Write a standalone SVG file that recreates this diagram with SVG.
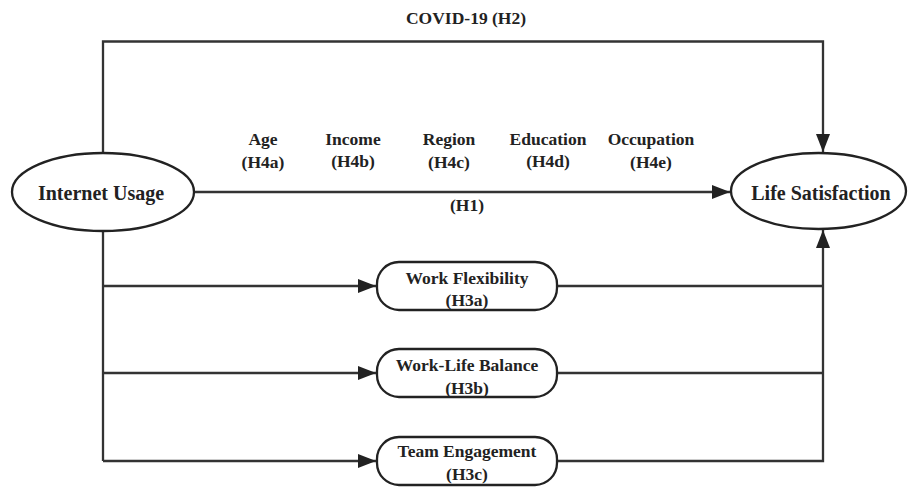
<svg xmlns="http://www.w3.org/2000/svg" width="909" height="487" viewBox="0 0 909 487" font-family="'Liberation Serif', 'Times New Roman', serif">
<defs>
<style>
text{font-weight:bold;fill:#222;text-anchor:middle}
.big{font-size:20px}
.mid{font-size:17.5px}
.node{fill:#fff;stroke:#222;stroke-width:2.3}
.ln{fill:none;stroke:#333;stroke-width:2.3}
</style>
<marker id="ahb" markerWidth="18" markerHeight="14" refX="18" refY="7" orient="auto" markerUnits="userSpaceOnUse" viewBox="0 0 18 14">
<path d="M0,0 L18,7 L0,14 Z" fill="#222"/>
</marker>
</defs>
<g id="connectors">
<path class="ln" d="M103,153 V41.5 H823 V152" marker-end="url(#ahb)"/>
<path class="ln" d="M194,192 H730" marker-end="url(#ahb)"/>
<path class="ln" d="M103,231 V461"/>
<path class="ln" d="M103,286 H376" marker-end="url(#ahb)"/>
<path class="ln" d="M103,373 H376" marker-end="url(#ahb)"/>
<path class="ln" d="M103,461 H376" marker-end="url(#ahb)"/>
<path class="ln" d="M557,286 H823"/>
<path class="ln" d="M557,373 H823"/>
<path class="ln" d="M557,461 H823 V230" marker-end="url(#ahb)"/>
</g>
<g id="labels">
<text class="mid" x="466" y="23.5">COVID-19 (H2)</text>
<text class="mid" x="263" y="145">Age</text>
<text class="mid" x="263" y="168">(H4a)</text>
<text class="mid" x="353" y="145">Income</text>
<text class="mid" x="353" y="167">(H4b)</text>
<text class="mid" x="449" y="145">Region</text>
<text class="mid" x="449" y="168">(H4c)</text>
<text class="mid" x="548" y="145">Education</text>
<text class="mid" x="548" y="167">(H4d)</text>
<text class="mid" x="651" y="145">Occupation</text>
<text class="mid" x="651" y="168">(H4e)</text>
<text class="mid" x="467" y="211">(H1)</text>
</g>
<g id="internet-usage">
<ellipse class="node" cx="103" cy="192" rx="91" ry="39"/>
<text class="big" x="101" y="200">Internet Usage</text>
</g>
<g id="life-satisfaction">
<ellipse class="node" cx="818.5" cy="191" rx="87.5" ry="38"/>
<text class="big" x="821" y="200">Life Satisfaction</text>
</g>
<g id="work-flexibility">
<rect class="node" x="377" y="262" width="180" height="48" rx="22"/>
<text class="mid" x="467" y="283.5">Work Flexibility</text>
<text class="mid" x="467" y="306">(H3a)</text>
</g>
<g id="work-life-balance">
<rect class="node" x="377" y="349" width="180" height="48" rx="22"/>
<text class="mid" x="467" y="371">Work-Life Balance</text>
<text class="mid" x="467" y="394">(H3b)</text>
</g>
<g id="team-engagement">
<rect class="node" x="377" y="437" width="180" height="48" rx="22"/>
<text class="mid" x="467" y="457">Team Engagement</text>
<text class="mid" x="467" y="480">(H3c)</text>
</g>
</svg>
